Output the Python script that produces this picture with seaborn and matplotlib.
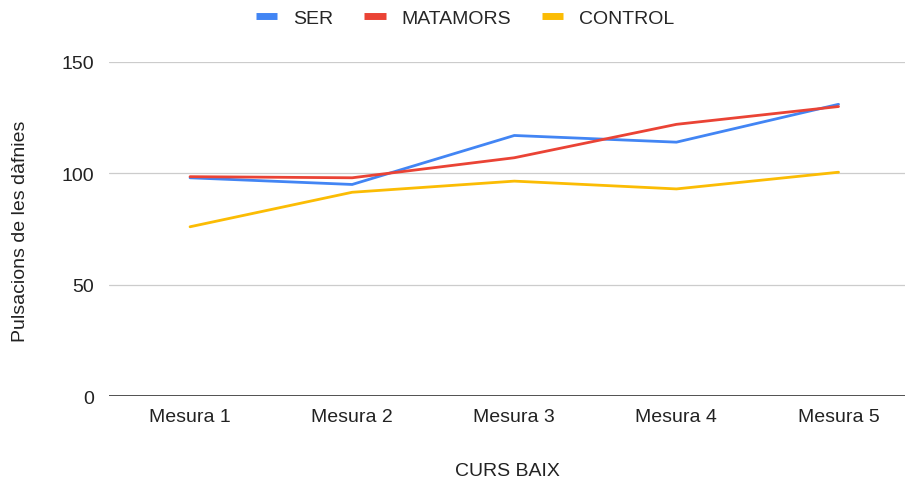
import matplotlib
matplotlib.use("Agg")
import matplotlib.pyplot as plt
import seaborn as sns
import pandas as pd
from matplotlib.lines import Line2D

categories = ["Mesura 1", "Mesura 2", "Mesura 3", "Mesura 4", "Mesura 5"]
ser = [98, 95, 117, 114, 131]
matamors = [98.5, 98, 107, 122, 130]
control = [76, 91.5, 96.5, 93, 100.5]
series_names = ["SER", "MATAMORS", "CONTROL"]
colors = ["#4285F4", "#EA4335", "#FBBC04"]

rows = []
for name, vals in zip(series_names, [ser, matamors, control]):
    for i, v in enumerate(vals):
        rows.append({"x": i, "cat": categories[i], "value": v, "serie": name})
df = pd.DataFrame(rows)

sns.set_theme(style="white")
plt.rcParams["font.family"] = ["Liberation Sans", "DejaVu Sans"]

fs = 14
fig = plt.figure(figsize=(9.1, 4.89), dpi=100)
ax = fig.add_axes([109/910, 1-397/489, (905-109)/910, (397-63)/489])

sns.lineplot(data=df, x="x", y="value", hue="serie", hue_order=series_names,
             palette=colors, linewidth=2.0, ax=ax, legend=False)

ax.set_xlim(-0.5, 4.41)
ax.set_ylim(0, 150)
ax.set_yticks([0, 50, 100, 150])
ax.set_xticks(range(len(categories)))
ax.set_xticklabels(categories)
ax.tick_params(axis="both", length=0, labelsize=fs, colors="#222222")
ax.tick_params(axis="x", pad=9)
ax.tick_params(axis="y", pad=11)
for y in [50, 100, 150]:
    ax.axhline(y, color="#cccccc", linewidth=0.9, zorder=0)
ax.axhline(0, color="#333333", linewidth=1.2, zorder=1)
for s in ax.spines.values():
    s.set_visible(False)
ax.set_xlabel("")
ax.set_ylabel("")

fig.text(507/910, 1-472/489, "CURS BAIX", ha="center", va="center", fontsize=fs, color="#222222")
fig.text(21/910, 1-231/489, "Pulsacions de les dàfnies", ha="center", va="center",
         rotation=90, fontsize=fs, color="#222222")

handles = [Line2D([0], [0], color=c, linewidth=5, solid_capstyle="butt") for c in colors]
fig.legend(handles, series_names, loc="center", bbox_to_anchor=(465/910, 1-19/489),
           ncol=3, frameon=False, fontsize=fs, handlelength=1.1, handletextpad=0.8,
           columnspacing=1.6)

fig.savefig("out.png", dpi=100)
